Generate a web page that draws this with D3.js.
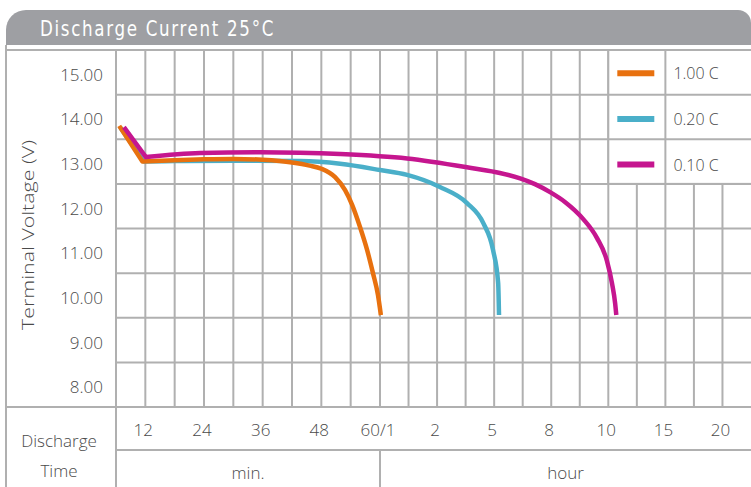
<!DOCTYPE html>
<html>
<head>
<meta charset="utf-8">
<script src="https://cdn.jsdelivr.net/npm/d3@7"></script>
<style>
  body { margin: 0; background: #fff; }
  text { font-family: "Open Sans", "Noto Sans", sans-serif; font-weight: 300; fill: #4a4a4a; }
</style>
</head>
<body>
<div id="container"></div>
<script>
/* DATA */
const voltageTicks = [15, 14, 13, 12, 11, 10, 9, 8];
const timeLabels = ["12", "24", "36", "48", "60/1", "2", "5", "8", "10", "15", "20"];
const unitLabels = ["min.", "hour"];
const seriesNames = ["1.00 C", "0.20 C", "0.10 C"];
const seriesColors = ["#e8710f", "#4aafc9", "#c5168f"];

// [grid column, volts]
const rate100C = [[0.11, 13.80], [0.90, 13.00], [2.0, 13.03], [3.0, 13.05], [4.0, 13.06], [5.0, 13.04],
  [6.0, 12.98], [6.6, 12.91], [7.0, 12.84], [7.47, 12.65], [7.81, 12.36], [8.05, 12.03], [8.32, 11.53],
  [8.56, 11.02], [8.76, 10.50], [8.93, 10.01], [9.03, 9.56]];
const rate020C = [[0.14, 13.77], [0.95, 13.00], [2.0, 13.01], [4.0, 13.02], [6.27, 13.01], [7.64, 12.95],
  [9.0, 12.81], [9.95, 12.70], [11.1, 12.43], [12.05, 12.07], [12.62, 11.62], [12.96, 11.02],
  [13.14, 10.28], [13.17, 9.56]];
const rate010C = [[0.27, 13.77], [1.02, 13.10], [2.86, 13.19], [4.91, 13.21], [6.27, 13.20], [7.64, 13.17],
  [9.95, 13.07], [12.25, 12.85], [13.2, 12.745], [13.91, 12.625], [14.43, 12.495], [14.96, 12.315],
  [15.48, 12.095], [16.13, 11.705], [16.6, 11.29], [16.95, 10.78], [17.13, 10.27], [17.24, 9.82], [17.28, 9.56]];
const allSeries = [rate100C, rate020C, rate010C];
const drawOrder = [1, 0, 2];

/* LAYOUT */
const width = 751, height = 487;
const left = 6, gridLeft = 116, gridTop = 50, gridBottom = 407, tickRowBottom = 450;
const gridColor = "#b0b0b0";

const svg = d3.select("#container").append("svg")
  .attr("width", width).attr("height", height);

// column index -> px (minutes part is slightly wider than hours part)
const xScale = d3.scaleLinear().domain([0, 9, 22]).range([gridLeft, 380, width]);
const yScale = d3.scaleLinear().domain([15.5, 7.5]).range([gridTop, gridBottom]);

// HEADER
svg.append("path")
  .attr("d", `M${left},45 L${left},30 A20,20 0 0 1 ${left + 20},10 L${width - 13},10 A13,13 0 0 1 ${width},23 L${width},45 Z`)
  .attr("fill", "#9e9fa3");
svg.append("text")
  .attr("x", 40).attr("y", 36)
  .attr("textLength", 235).attr("lengthAdjust", "spacingAndGlyphs")
  .style("font-family", "'DejaVu Sans Condensed', 'Liberation Sans Narrow', 'Open Sans', sans-serif")
  .style("font-weight", "400")
  .style("font-size", "22px")
  .style("letter-spacing", "2px")
  .style("fill", "#fff")
  .text("Discharge Current 25°C");

// GRID
const grid = svg.append("g").attr("stroke", gridColor).attr("stroke-width", 2);
const rowEdges = d3.range(15.5, 7.4, -1);
grid.selectAll(".hline")
  .data(rowEdges.slice(1, -1))
  .join("line")
  .attr("x1", gridLeft).attr("x2", width)
  .attr("y1", d => yScale(d)).attr("y2", d => yScale(d));
grid.selectAll(".vline")
  .data(d3.range(1, 22))
  .join("line")
  .attr("x1", d => xScale(d)).attr("x2", d => xScale(d))
  .attr("y1", gridTop).attr("y2", gridBottom);

// frame lines
grid.append("line").attr("x1", left).attr("x2", width).attr("y1", gridTop).attr("y2", gridTop);
grid.append("line").attr("x1", left).attr("x2", width).attr("y1", gridBottom).attr("y2", gridBottom);
grid.append("line").attr("x1", gridLeft).attr("x2", width).attr("y1", tickRowBottom).attr("y2", tickRowBottom);
grid.append("line").attr("x1", left).attr("x2", left).attr("y1", 45).attr("y2", height);
grid.append("line").attr("x1", gridLeft).attr("x2", gridLeft).attr("y1", gridTop).attr("y2", height);
grid.append("line").attr("x1", xScale(9)).attr("x2", xScale(9)).attr("y1", tickRowBottom).attr("y2", height);

// LEGEND box (covers inner grid)
const legX = xScale(17), legSplit = xScale(19);
svg.append("rect")
  .attr("x", legX).attr("y", gridTop)
  .attr("width", width - legX + 2).attr("height", yScale(12.5) - gridTop)
  .attr("fill", "#fff").attr("stroke", gridColor).attr("stroke-width", 2);
const leg = svg.append("g");
leg.selectAll(".leg-row")
  .data([14.5, 13.5])
  .join("line")
  .attr("x1", legX).attr("x2", width)
  .attr("y1", d => yScale(d)).attr("y2", d => yScale(d))
  .attr("stroke", gridColor).attr("stroke-width", 2);
leg.append("line")
  .attr("x1", legSplit).attr("x2", legSplit).attr("y1", gridTop).attr("y2", yScale(12.5))
  .attr("stroke", gridColor).attr("stroke-width", 2);
leg.selectAll(".leg-swatch")
  .data(seriesNames)
  .join("line")
  .attr("x1", legX + 9).attr("x2", legX + 46)
  .attr("y1", (_, i) => yScale(15 - i) + 1 + i).attr("y2", (_, i) => yScale(15 - i) + 1 + i)
  .attr("stroke", (_, i) => seriesColors[i]).attr("stroke-width", 6);
leg.selectAll(".leg-text")
  .data(seriesNames)
  .join("text")
  .attr("x", legSplit + 8)
  .attr("y", (_, i) => yScale(15 - i) + 1 + i)
  .attr("dominant-baseline", "central")
  .style("font-size", "16px")
  .text(d => d);

// Y AXIS LABELS
svg.selectAll(".ylab")
  .data(voltageTicks)
  .join("text")
  .attr("x", 103).attr("y", d => yScale(d) + 2)
  .attr("text-anchor", "end").attr("dominant-baseline", "central")
  .style("font-size", "17px")
  .text(d => d.toFixed(2));

svg.append("text")
  .attr("transform", `translate(34,${235}) rotate(-90)`)
  .attr("text-anchor", "middle")
  .style("font-size", "17px")
  .attr("textLength", 190).attr("lengthAdjust", "spacingAndGlyphs")
  .text("Terminal Voltage (V)");

// X AXIS LABELS
svg.selectAll(".xlab")
  .data(timeLabels)
  .join("text")
  .attr("x", (_, i) => xScale(i * 2 + 1) - 2)
  .attr("y", 429)
  .attr("text-anchor", "middle").attr("dominant-baseline", "central")
  .style("font-size", "17px")
  .text(d => d);

svg.selectAll(".unit")
  .data(unitLabels)
  .join("text")
  .attr("x", (_, i) => i === 0 ? (gridLeft + xScale(9)) / 2 : (xScale(9) + xScale(22)) / 2)
  .attr("y", 472)
  .attr("text-anchor", "middle").attr("dominant-baseline", "central")
  .style("font-size", "17px")
  .text(d => d);

svg.selectAll(".dtime")
  .data(["Discharge", "Time"])
  .join("text")
  .attr("x", 59)
  .attr("y", (_, i) => 440 + i * 30)
  .attr("text-anchor", "middle").attr("dominant-baseline", "central")
  .style("font-size", "17px")
  .text(d => d);

// CURVES: straight initial drop, smooth afterwards
const lineStraight = d3.line()
  .x(d => xScale(d[0]))
  .y(d => yScale(d[1]));
const lineSmooth = d3.line()
  .x(d => xScale(d[0]))
  .y(d => yScale(d[1]))
  .curve(d3.curveMonotoneX);
const curvePath = pts => lineStraight(pts.slice(0, 2)) + lineSmooth(pts.slice(1)).replace(/^M[^C]*/, "");

svg.selectAll(".curve")
  .data(drawOrder)
  .join("path")
  .attr("class", "curve")
  .attr("d", i => curvePath(allSeries[i]))
  .attr("fill", "none")
  .attr("stroke", i => seriesColors[i])
  .attr("stroke-width", 4.5)
  .attr("stroke-linejoin", "round");
</script>
</body>
</html>
